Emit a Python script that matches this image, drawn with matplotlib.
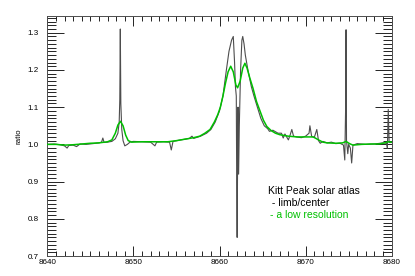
import matplotlib
matplotlib.use("Agg")
import matplotlib.pyplot as plt
from matplotlib.ticker import MultipleLocator, FormatStrFormatter

plt.rcParams['font.family'] = ['Liberation Sans', 'DejaVu Sans']

# High-resolution limb/center ratio (black)
hr_wave = [8640.0, 8640.8, 8641.5, 8642.0, 8642.3, 8642.5, 8643.0, 8643.4, 8643.8, 8644.5,
           8645.3, 8646.0, 8646.3, 8646.45, 8646.6, 8647.0, 8647.5, 8647.9, 8648.2, 8648.35,
           8648.42, 8648.48, 8648.54, 8648.65, 8648.8, 8649.0, 8649.3, 8649.6, 8650.0, 8651.0,
           8652.0, 8652.5, 8652.7, 8653.5, 8654.2, 8654.4, 8654.6, 8655.5, 8656.5, 8656.8,
           8657.0, 8657.8, 8658.5, 8659.0, 8659.5, 8660.0, 8660.4, 8660.8, 8661.1, 8661.4,
           8661.6, 8661.75, 8661.85, 8661.95, 8662.0, 8662.05, 8662.1, 8662.15, 8662.22, 8662.3,
           8662.45, 8662.6, 8662.7, 8662.85, 8663.0, 8663.3, 8663.7, 8664.0, 8664.4, 8664.8,
           8665.2, 8665.6, 8665.8, 8666.2, 8666.8, 8667.2, 8667.4, 8667.6, 8668.0, 8668.2,
           8668.4, 8668.6, 8669.0, 8669.5, 8670.0, 8670.4, 8670.5, 8670.7, 8671.0, 8671.3,
           8671.5, 8671.7, 8672.0, 8672.5, 8673.0, 8673.5, 8674.0, 8674.4, 8674.55, 8674.65,
           8674.7, 8674.75, 8674.9, 8675.0, 8675.2, 8675.35, 8675.5, 8676.0, 8677.0, 8678.0,
           8679.0, 8679.4, 8679.5, 8679.6, 8679.7, 8680.0]
hr_ratio = [1.000, 1.001, 0.999, 0.996, 0.990, 0.997, 0.998, 0.994, 1.001, 1.000,
            1.002, 1.004, 1.006, 1.017, 1.005, 1.006, 1.008, 1.015, 1.030, 1.060,
            1.120, 1.310, 1.110, 1.040, 1.010, 0.996, 1.000, 1.006, 1.008, 1.007,
            1.006, 0.996, 1.006, 1.007, 1.006, 0.985, 1.008, 1.012, 1.016, 1.022,
            1.016, 1.022, 1.030, 1.040, 1.060, 1.090, 1.130, 1.200, 1.250, 1.280,
            1.290, 1.220, 1.155, 1.130, 0.900, 0.750, 0.950, 1.100, 0.920, 1.050,
            1.200, 1.280, 1.290, 1.270, 1.240, 1.200, 1.155, 1.130, 1.100, 1.070,
            1.050, 1.042, 1.035, 1.038, 1.030, 1.030, 1.017, 1.028, 1.012, 1.025,
            1.040, 1.022, 1.020, 1.018, 1.022, 1.030, 1.050, 1.022, 1.018, 1.040,
            1.010, 1.003, 1.008, 1.004, 1.006, 1.002, 1.003, 0.998, 0.958, 1.100,
            1.308, 1.010, 0.975, 1.000, 0.990, 0.950, 0.998, 1.002, 1.000, 1.001,
            1.004, 1.003, 0.990, 1.094, 1.005, 1.005]

# Low-resolution version (green)
lr_wave = [8640.0, 8641.0, 8642.0, 8643.0, 8644.0, 8645.0, 8646.0, 8647.0, 8647.5, 8647.9,
           8648.2, 8648.5, 8648.8, 8649.1, 8649.4, 8649.8, 8651.0, 8652.0, 8653.0, 8654.0,
           8655.0, 8656.0, 8657.0, 8657.7, 8658.3, 8658.9, 8659.4, 8659.8, 8660.1, 8660.4,
           8660.7, 8661.0, 8661.3, 8661.6, 8661.9, 8662.1, 8662.4, 8662.7, 8662.95, 8663.2,
           8663.5, 8663.9, 8664.3, 8664.7, 8665.1, 8665.5, 8666.0, 8666.5, 8667.0, 8668.0,
           8669.0, 8670.0, 8670.9, 8671.5, 8672.0, 8672.5, 8673.5, 8674.3, 8674.7, 8675.1,
           8675.5, 8676.5, 8677.5, 8678.5, 8679.2, 8679.6, 8680.0]
lr_ratio = [1.000, 1.000, 0.998, 0.999, 1.001, 1.003, 1.004, 1.007, 1.012, 1.030,
            1.052, 1.062, 1.050, 1.025, 1.010, 1.006, 1.007, 1.007, 1.007, 1.007,
            1.010, 1.014, 1.018, 1.022, 1.030, 1.040, 1.060, 1.080, 1.100, 1.130,
            1.165, 1.195, 1.210, 1.195, 1.160, 1.152, 1.170, 1.205, 1.218, 1.205,
            1.180, 1.150, 1.115, 1.090, 1.065, 1.048, 1.037, 1.030, 1.026, 1.022,
            1.020, 1.020, 1.020, 1.012, 1.006, 1.004, 1.003, 1.004, 1.008, 1.002,
            0.998, 1.000, 1.001, 1.001, 1.004, 1.007, 1.006]

x_ticks = [8640, 8650, 8660, 8670, 8680]
y_ticks = [0.7, 0.8, 0.9, 1.0, 1.1, 1.2, 1.3]
title_text = "Kitt Peak solar atlas"
label_hr = " - limb/center"
label_lr = "- a low resolution"

fig = plt.figure(figsize=(4.15, 2.76), dpi=100)
ax = fig.add_axes([47.3 / 415, 20 / 276, (391.7 - 47.3) / 415, 240 / 276])

ax.plot(hr_wave, hr_ratio, color='0.3', lw=0.8, zorder=2)
ax.plot(lr_wave, lr_ratio, color='#00c000', lw=1.1, zorder=3)

ax.set_xlim(8640, 8680)
ax.set_ylim(0.7, 1.345)
ax.set_xticks(x_ticks)
ax.set_yticks(y_ticks)
ax.xaxis.set_minor_locator(MultipleLocator(1))
ax.yaxis.set_minor_locator(MultipleLocator(0.01))
ax.yaxis.set_major_formatter(FormatStrFormatter('%.1f'))

ax.tick_params(which='both', direction='in', top=True, right=True,
               labelsize=5.8, colors='black', width=0.6)
ax.tick_params(axis='x', which='major', length=7.5, pad=2.5)
ax.tick_params(axis='x', which='minor', length=3.5)
ax.tick_params(axis='y', which='major', length=12.5, pad=6)
ax.tick_params(axis='y', which='minor', length=6.5)
for s in ax.spines.values():
    s.set_linewidth(0.7)
    s.set_color('0.3')

ax.set_ylabel('ratio', fontsize=5.8, labelpad=4)

fig.text(268 / 415, 1 - 191 / 276, title_text, fontsize=7.5, va='center', ha='left')
fig.text(269 / 415, 1 - 203 / 276, label_hr, fontsize=7.5, va='center', ha='left')
fig.text(270 / 415, 1 - 214.5 / 276, label_lr, fontsize=7.5, va='center', ha='left',
         color='#00c000')

fig.savefig('out.png', dpi=100)
